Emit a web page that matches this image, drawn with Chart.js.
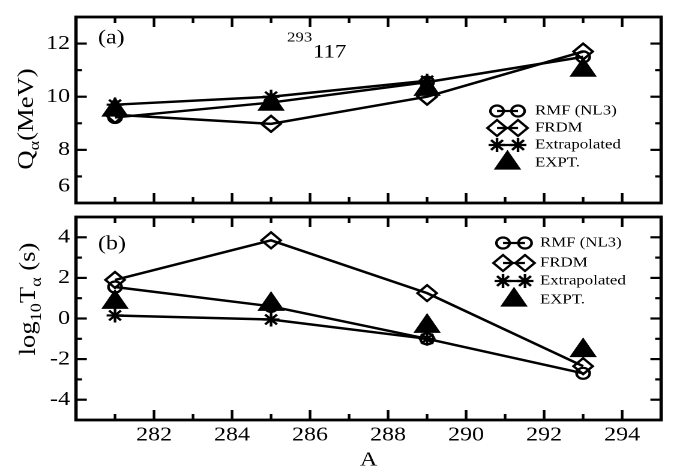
<!DOCTYPE html>
<html>
<head>
<meta charset="utf-8">
<script src="https://cdn.jsdelivr.net/npm/chart.js@4.4.1/dist/chart.umd.min.js"></script>
<style>
  html, body { margin: 0; padding: 0; background: #fff; }
  #wrap { position: relative; width: 677px; height: 474px; overflow: hidden; background: #fff; }
  #wrap canvas { position: absolute; left: 0; }
  #topChart { top: 0; }
  #botChart { top: 200px; }
</style>
</head>
<body>
<div id="wrap">
  <canvas id="topChart" width="564" height="220" style="width:677px;height:220px"></canvas>
  <canvas id="botChart" width="564" height="274" style="width:677px;height:274px"></canvas>
</div>
<script>
/* ---------- data ---------- */
const massNumbers = [281, 285, 289, 293];
const seriesNames = ['RMF (NL3)', 'FRDM', 'Extrapolated', 'EXPT.'];

// panel (a): Q_alpha in MeV
const qRmf   = [9.22, 9.78, 10.55, 11.5];
const qFrdm  = [9.32, 8.98, 10.0, 11.7];
const qExtra = [9.7, 10.0, 10.6, null];
const qExpt  = [9.5, 9.72, 10.28, 11.0];

// panel (b): log10 T_alpha in s
const tRmf   = [1.55, 0.6, -1.0, -2.7];
const tFrdm  = [1.9, 3.85, 1.25, -2.35];
const tExtra = [0.15, -0.05, -1.0, null];
const tExpt  = [0.8, 0.7, -0.38, -1.58];

const xTicks = [282, 284, 286, 288, 290, 292, 294];
const qTicks = [8, 10, 12];          // the "6" is drawn by hand, a bit above its tick
const tTicks = [-4, -2, 0, 2, 4];

/* ---------- layout ---------- */
// canvases are drawn narrower and stretched by css, text in the original is wide
const SX = 677 / 564;
const AXIS_W = 76 / SX;
const PAD_R = (677 - 662) / SX;
const FONT = 'Liberation Serif';

const markers = [
  { pointStyle: 'circle',   radius: 5.5, line: true,  filled: false },
  { pointStyle: 'rectRot',  radius: 8,   line: true,  filled: false },
  { pointStyle: 'star',     radius: 7,   line: true,  filled: false },
  { pointStyle: 'triangle', radius: 11,  line: false, filled: true  }
];

function makeDatasets(lists) {
  return lists.map((vals, i) => {
    const m = markers[i];
    return {
      label: seriesNames[i],
      data: massNumbers.map((a, k) => ({ x: a, y: vals[k] })),
      showLine: m.line,
      borderColor: '#000',
      borderWidth: 2.5,
      pointStyle: m.pointStyle,
      pointRadius: m.radius,
      pointBorderWidth: 2.2,
      pointBorderColor: '#000',
      pointBackgroundColor: m.filled ? '#000' : 'rgba(0,0,0,0)',
      fill: false,
      tension: 0
    };
  });
}

/* ---------- helpers ---------- */
function richText(ctx, parts, x, y, opts = {}) {
  const rot = opts.rot || 0, kx = opts.kx || 1, align = opts.align || 'left';
  ctx.save();
  ctx.translate(x, y);
  ctx.rotate(rot);
  ctx.scale(kx, 1);
  ctx.fillStyle = '#000';
  ctx.textBaseline = 'alphabetic';
  ctx.textAlign = 'left';
  let w = 0;
  parts.forEach(p => {
    ctx.font = p.size + 'px "' + FONT + '"';
    p.w = ctx.measureText(p.t).width;
    w += p.w;
  });
  let cx = align === 'center' ? -w / 2 : (align === 'right' ? -w : 0);
  const base = (opts.capSize || parts[0].size) * 0.33;
  parts.forEach(p => {
    ctx.font = p.size + 'px "' + FONT + '"';
    ctx.fillText(p.t, cx, base + (p.dy || 0));
    cx += p.w;
  });
  ctx.restore();
}

/* ---------- plugins ---------- */
const framePlugin = {
  id: 'frame',
  afterDraw(chart) {
    const { ctx, chartArea: a, scales } = chart;
    const xs = scales.x, ys = scales.y;
    const seg = (x1, y1, x2, y2) => { ctx.beginPath(); ctx.moveTo(x1, y1); ctx.lineTo(x2, y2); ctx.stroke(); };
    ctx.save();
    ctx.strokeStyle = '#000';
    ctx.lineWidth = 2.2;
    for (let v = xs.min + 1; v < xs.max; v++) {
      const px = xs.getPixelForValue(v);
      const len = v % 2 === 0 ? 10 : 6;
      seg(px, a.top, px, a.top + len);
      seg(px, a.bottom, px, a.bottom - len);
    }
    for (let v = ys.min + 1; v < ys.max; v++) {
      const py = ys.getPixelForValue(v);
      const len = v % 2 === 0 ? 9 : 5;
      seg(a.left, py, a.left + len, py);
      seg(a.right, py, a.right - len, py);
    }
    ctx.lineWidth = 2.8;
    ctx.strokeRect(a.left, a.top, a.right - a.left, a.bottom - a.top);
    ctx.restore();
  }
};

const keyPlugin = {
  id: 'key',
  afterDraw(chart, args, o) {
    const ctx = chart.ctx;
    const drawPoint = Chart.helpers && Chart.helpers.drawPoint;
    ctx.save();
    chart.data.datasets.forEach((ds, i) => {
      const m = markers[i], y = o.rows[i];
      ctx.strokeStyle = '#000';
      ctx.lineWidth = 2.2;
      ctx.fillStyle = m.filled ? '#000' : 'rgba(0,0,0,0)';
      const pt = { pointStyle: m.pointStyle, radius: m.radius, rotation: 0, borderWidth: 2.2 };
      if (m.line) {
        ctx.beginPath(); ctx.moveTo(o.x1, y); ctx.lineTo(o.x2, y); ctx.stroke();
        if (drawPoint) { drawPoint(ctx, pt, o.x1, y); drawPoint(ctx, pt, o.x2, y); }
      } else if (drawPoint) {
        drawPoint(ctx, pt, (o.x1 + o.x2) / 2, y);
      }
      ctx.fillStyle = '#000';
      ctx.font = '14px "' + FONT + '"';
      ctx.textBaseline = 'middle';
      ctx.textAlign = 'left';
      ctx.fillText(ds.label, o.textX, y);
    });
    ctx.restore();
  }
};

const notesPlugin = {
  id: 'notes',
  afterDraw(chart, args, o) {
    if (o.draw) o.draw(chart, chart.ctx);
  }
};

function yAxis(min, max, ticks) {
  return {
    min, max,
    afterBuildTicks: s => { s.ticks = ticks.map(v => ({ value: v })); },
    afterFit: s => { s.width = AXIS_W; },
    grid: { display: false, drawTicks: false },
    border: { display: false },
    ticks: { font: { family: FONT, size: 20 }, color: '#000', padding: 5 }
  };
}

/* ---------- panel (a) ---------- */
new Chart(document.getElementById('topChart'), {
  type: 'line',
  data: { datasets: makeDatasets([qRmf, qFrdm, qExtra, qExpt]) },
  options: {
    responsive: false,
    animation: false,
    devicePixelRatio: 2,
    layout: { padding: { top: 7, bottom: 7, left: 0, right: PAD_R } },
    plugins: {
      legend: { display: false },
      tooltip: { enabled: false },
      key: { rows: [111, 128, 145, 163], x1: 497 / SX, x2: 518 / SX, textX: 535 / SX },
      notes: {
        draw(chart, ctx) {
          const ys = chart.scales.y;
          richText(ctx, [{ t: '(a)', size: 20 }], 98 / SX, 37);
          richText(ctx, [{ t: '293', size: 14 }], 287 / SX, 37);
          richText(ctx, [{ t: '117', size: 19 }], 313 / SX, 51);
          richText(ctx, [{ t: '6', size: 20 }], ys.right - 5, ys.getPixelForValue(6) - 18, { align: 'right' });
          richText(ctx, [
            { t: 'Q', size: 19 },
            { t: 'α', size: 13, dy: 5 },
            { t: '(MeV)', size: 19 }
          ], 25.5 / SX, 119, { rot: -Math.PI / 2, kx: 1.4, align: 'center' });
        }
      }
    },
    scales: {
      x: { type: 'linear', min: 280, max: 295, display: false },
      y: yAxis(6, 13, qTicks)
    }
  },
  plugins: [framePlugin, keyPlugin, notesPlugin]
});

/* ---------- panel (b) ---------- */
new Chart(document.getElementById('botChart'), {
  type: 'line',
  data: { datasets: makeDatasets([tRmf, tFrdm, tExtra, tExpt]) },
  options: {
    responsive: false,
    animation: false,
    devicePixelRatio: 2,
    layout: { padding: { top: 13, bottom: 0, left: 0, right: PAD_R } },
    plugins: {
      legend: { display: false },
      tooltip: { enabled: false },
      key: { rows: [43, 63, 81, 100], x1: 503 / SX, x2: 525 / SX, textX: 540 / SX },
      notes: {
        draw(chart, ctx) {
          richText(ctx, [{ t: '(b)', size: 20 }], 98 / SX, 43);
          richText(ctx, [
            { t: 'log', size: 19 },
            { t: '10', size: 13, dy: 5 },
            { t: 'T', size: 19 },
            { t: 'α', size: 13, dy: 5 },
            { t: ' (s)', size: 19 }
          ], 27.5 / SX, 99, { rot: -Math.PI / 2, kx: 1.4, align: 'center' });
        }
      }
    },
    scales: {
      x: {
        type: 'linear', min: 280, max: 295,
        afterBuildTicks: s => { s.ticks = xTicks.map(v => ({ value: v })); },
        afterFit: s => { s.height = 54; },
        grid: { display: false, drawTicks: false },
        border: { display: false },
        ticks: { font: { family: FONT, size: 20 }, color: '#000', padding: 3, autoSkip: false, maxRotation: 0 },
        title: { display: true, text: 'A', color: '#000', font: { family: FONT, size: 20 }, padding: { top: 0, bottom: 2 } }
      },
      y: yAxis(-5, 5, tTicks)
    }
  },
  plugins: [framePlugin, keyPlugin, notesPlugin]
});
</script>
</body>
</html>
